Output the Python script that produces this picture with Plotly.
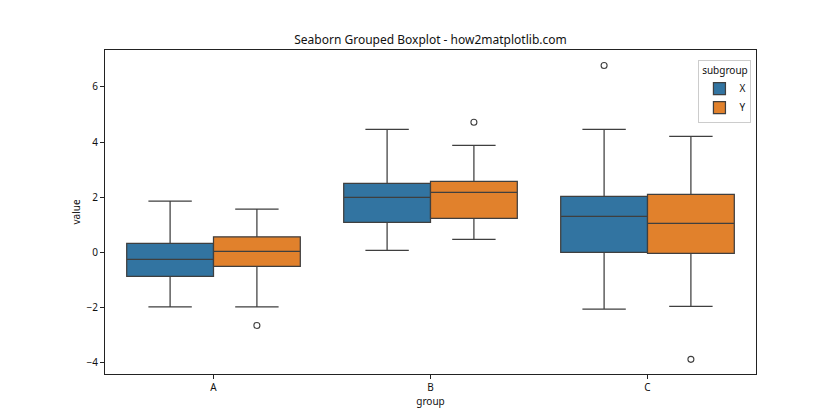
import plotly.graph_objects as go

# ---- data ----
categories = ["A", "B", "C"]
subgroups = ["X", "Y"]

x_q1 = [-0.86, 1.09, 0.01]
x_median = [-0.25, 2.00, 1.31]
x_q3 = [0.33, 2.51, 2.04]
x_lower = [-1.97, 0.08, -2.05]
x_upper = [1.86, 4.46, 4.46]
x_outlier_cat = ["C"]
x_outlier_val = [6.78]

y_q1 = [-0.50, 1.24, -0.03]
y_median = [0.04, 2.18, 1.06]
y_q3 = [0.57, 2.58, 2.11]
y_lower = [-1.97, 0.48, -1.95]
y_upper = [1.57, 3.88, 4.21]
y_outlier_cat = ["A", "B", "C"]
y_outlier_val = [-2.64, 4.72, -3.87]

colors = {"X": "#3274a1", "Y": "#e1812c"}
edge = "#3f3f3f"
FONT = "Noto Sans"

stats = {
    "X": (x_q1, x_median, x_q3, x_lower, x_upper, x_outlier_cat, x_outlier_val),
    "Y": (y_q1, y_median, y_q3, y_lower, y_upper, y_outlier_cat, y_outlier_val),
}
offsets = {"X": -0.2, "Y": 0.2}

fig = go.Figure()
for sg in subgroups:
    q1, med, q3, lo, hi, ocat, oval = stats[sg]
    pos = [i + offsets[sg] for i in range(len(categories))]
    fig.add_trace(go.Box(
        x=pos, q1=q1, median=med, q3=q3, lowerfence=lo, upperfence=hi,
        name=sg, width=0.4, whiskerwidth=0.5, boxpoints=False,
        fillcolor=colors[sg], line=dict(color=edge, width=1.25),
        legendgroup=sg,
    ))
for sg in subgroups:
    q1, med, q3, lo, hi, ocat, oval = stats[sg]
    fig.add_trace(go.Scatter(
        x=[categories.index(c) + offsets[sg] for c in ocat], y=oval,
        mode="markers", showlegend=False, legendgroup=sg,
        marker=dict(symbol="circle-open", size=6, color=edge, line=dict(width=1.1, color=edge)),
        hoverinfo="y",
    ))

axis_common = dict(
    showline=True, linecolor="#222", linewidth=1, mirror=True,
    ticks="outside", ticklen=4, tickcolor="#222", tickwidth=1,
    showgrid=False, zeroline=False,
    tickfont=dict(family=FONT, size=10, color="#111"),
)

# page body has an 8px default margin; the figure is sized to fit the 840x420 window
W, H = 832, 412
fig.update_layout(
    width=W, height=H,
    margin=dict(l=97, r=84, t=42, b=46),
    paper_bgcolor="white", plot_bgcolor="white",
    font=dict(family=FONT, size=10, color="#111"),
    title=dict(text="Seaborn Grouped Boxplot - how2matplotlib.com",
               x=0.5, xanchor="center", xref="paper",
               y=1 - 32 / H, yanchor="middle", yref="container",
               font=dict(family=FONT, size=12, color="#111")),
    xaxis=dict(range=[-0.5, 2.5], tickvals=list(range(len(categories))), ticktext=categories,
               title=dict(text="group", standoff=4, font=dict(family=FONT, size=10)), **axis_common),
    yaxis=dict(range=[-4.40, 7.34], tickvals=[-4, -2, 0, 2, 4, 6],
               title=dict(text="value", standoff=4, font=dict(family=FONT, size=10)), **axis_common),
    legend=dict(x=0.993, xanchor="right", y=0.969, yanchor="top",
                bgcolor="white", bordercolor="#cccccc", borderwidth=1,
                title=dict(text="subgroup", side="top center", font=dict(family=FONT, size=10)),
                font=dict(family=FONT, size=10), itemwidth=30, tracegroupgap=0),
    showlegend=True,
)

fig.write_html("out.html")
